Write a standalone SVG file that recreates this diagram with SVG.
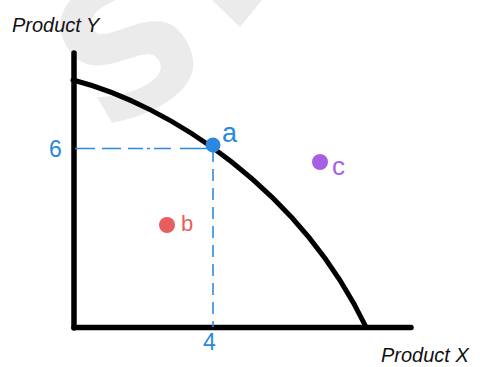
<svg xmlns="http://www.w3.org/2000/svg" width="480" height="367" viewBox="0 0 480 367">
<style>
.axis{stroke:#000;stroke-width:5.5;stroke-linecap:round;fill:none}
.curve{stroke:#000;stroke-width:5;stroke-linecap:round;fill:none}
.guide{stroke:#2e8ae0;stroke-width:1.6;fill:none}
.lbl{font-family:"Liberation Sans",Arial,sans-serif}
.title{font-family:"Liberation Sans",Arial,sans-serif;font-style:italic;font-size:20px;fill:#111}
.blue{fill:#2a88e0}
.red{fill:#e85d5d}
.purple{fill:#a75fe6}
.wm{fill:#ebebeb}
</style>
<rect width="480" height="367" fill="#fff"/>
<g id="watermark">
<text class="wm" transform="translate(103,136) rotate(-30)" font-family="DejaVu Sans" font-weight="bold" font-size="185">S</text>
<polygon class="wm" points="212,0 262,0 240,27"/>
</g>
<g id="axes">
<line class="axis" x1="74" y1="53" x2="74" y2="328"/>
<line class="axis" x1="74" y1="327.5" x2="411" y2="327.5"/>
</g>
<g id="connectors">
<path class="guide" d="M75 148.5H95M102 148.5H121M128 148.5H143M147 148.5H150M154 148.5H171M180 148.5H207"/>
<path class="guide" d="M213 150V327" stroke-dasharray="12 7"/>
</g>
<g id="ppf">
<path class="curve" d="M73 80C170 105 300 190 366 327"/>
</g>
<g id="label-y"><text class="title" x="12" y="32">Product Y</text></g>
<g id="label-x"><text class="title" x="381" y="362" font-size="21.5">Product X</text></g>
<g id="tick-6"><text class="lbl blue" x="49" y="157" font-size="23">6</text></g>
<g id="tick-4"><text class="lbl blue" x="203" y="350" font-size="23">4</text></g>
<g id="point-a">
<circle class="blue" cx="213" cy="145" r="7.5"/>
<text class="lbl blue" x="222" y="142" font-size="27">a</text>
</g>
<g id="point-b">
<circle class="red" cx="167" cy="225" r="8"/>
<text class="lbl red" x="181" y="231" font-size="22">b</text>
</g>
<g id="point-c">
<circle class="purple" cx="320" cy="162" r="8"/>
<text class="lbl purple" x="332" y="175" font-size="26">c</text>
</g>
</svg>
